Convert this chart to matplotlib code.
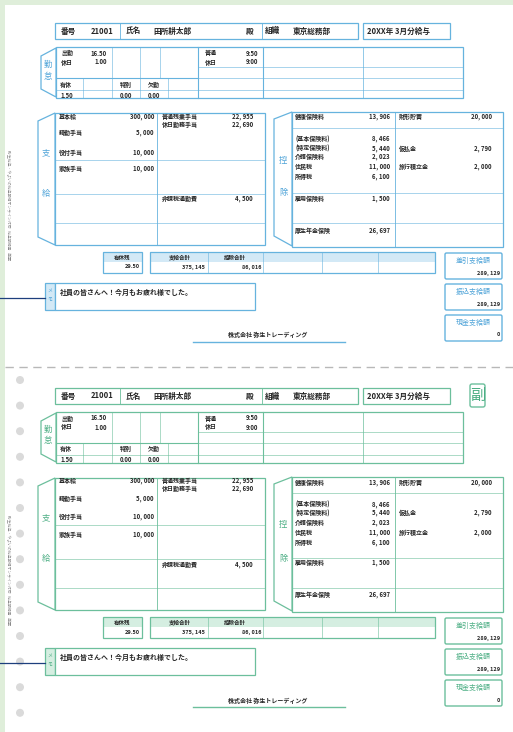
import matplotlib
matplotlib.use("Agg")
import matplotlib.pyplot as plt
from matplotlib.patches import Rectangle, Polygon, Circle, FancyBboxPatch

plt.rcParams['font.family'] = ['Noto Sans CJK JP', 'DejaVu Sans']

# --- slip data ---
header_labels = ["番号", "氏名", "組織"]
employee_no = "21001"
employee_name = "田所耕太郎"
department = "東京総務部"
period = "20XX年 3月分給与"

attend_labels = ["出勤", "休日"]
attend_days = ["16.50", "1.00"]
overtime_labels = ["普通", "休日"]
overtime_hours = ["9:50", "9:00"]
leave_labels = ["有休", "特別", "欠勤"]
leave_values = ["1.50", "0.00", "0.00"]

pay_left_items = ["基本給", "精勤手当", "役付手当", "家族手当"]
pay_left_values = [300000, 5000, 10000, 10000]
pay_right_items = ["普通残業手当", "休日勤務手当", "非課税通勤費"]
pay_right_values = [22955, 22690, 4500]

ded_left_items = ["健康保険料", "(基本保険料)", "(特定保険料)", "介護保険料",
                  "住民税", "所得税", "雇用保険料", "厚生年金保険"]
ded_left_values = [13906, 8466, 5440, 2023, 11000, 6100, 1500, 26697]
ded_right_items = ["財形貯蓄", "仮払金", "旅行積立金"]
ded_right_values = [20000, 2790, 2000]

paid_leave_left = "29.50"
total_labels = ["支給合計", "控除合計"]
total_values = [375145, 86016]
net_labels = ["差引支給額", "振込支給額", "現金支給額"]
net_values = [289129, 289129, 0]

memo_text = "社員の皆さんへ！今月もお疲れ様でした。"
company = "株式会社 弥生トレーディング"
side_note = "弥生給与・やよいの給与明細オンライン対応   給与明細書   単票"

INK = "#262626"


def fmt(v):
    return f"{v:,}".replace(",", ", ")


def draw_slip(ax, dy, line, fill, tab_ink):
    def rect(x0, y0, x1, y1, fc="none", ec=line, lw=0.9, z=2):
        ax.add_patch(Rectangle((x0, y0 + dy), x1 - x0, y1 - y0, fc=fc, ec=ec, lw=lw, zorder=z))

    def shade(x0, y0, x1, y1, fc=fill, z=1.5):
        rect(x0, y0, x1, y1, fc=fc, ec="none", lw=0, z=z)

    def hline(x0, x1, y, lw=0.5):
        ax.plot([x0, x1], [y + dy, y + dy], color=line, lw=lw, zorder=3)

    def vline(x, y0, y1, lw=0.5):
        ax.plot([x, x], [y0 + dy, y1 + dy], color=line, lw=lw, zorder=3)

    def txt(x, y, s, size=4.3, ha="left", color=INK, weight="bold", **kw):
        ax.text(x, y + dy, s, fontsize=size, ha=ha, va="center", color=color,
                fontweight=weight, zorder=5, **kw)

    def tab(pts, chars, cx, cys):
        ax.add_patch(Polygon([(px, py + dy) for px, py in pts], closed=True,
                             fc="white", ec=line, lw=0.9, zorder=2))
        for ch, cy in zip(chars, cys):
            txt(cx, cy, ch, size=6, ha="center", color=tab_ink, weight="normal")

    # header
    rect(55, 23, 358, 39, fc="white")
    vline(120, 23, 39, lw=0.6)
    vline(262, 23, 39, lw=0.6)
    txt(61, 31, header_labels[0], size=5.5)
    txt(91, 31, employee_no, size=5.5)
    txt(126, 31, header_labels[1], size=5.5)
    txt(153, 31, employee_name, size=5.5)
    txt(250, 31, "殿", size=5.5, ha="center")
    txt(265, 31, header_labels[2], size=5.5)
    txt(293, 31, department, size=5.5)
    rect(363, 23, 450, 39, fc="white")
    txt(367, 31, period, size=5.5)

    # attendance block
    rect(56, 47, 463, 98, fc="white")
    for x0, x1 in [(112, 140), (198, 227), (263, 310), (363, 410)]:
        shade(x0, 47, x1, 98)
    shade(56, 78, 198, 90)
    shade(140, 47, 198, 78, fc="white", z=1.6)
    shade(83, 78, 112, 98, z=1.6)
    hline(56, 198, 78, lw=0.8)
    hline(198, 463, 67, lw=0.4)
    hline(198, 463, 78, lw=0.4)
    hline(56, 463, 90, lw=0.4)
    for x in (112, 140, 160):
        vline(x, 47, 78, lw=0.4)
    for x in (83, 112, 140, 168):
        vline(x, 78, 98, lw=0.4)
    vline(198, 47, 98, lw=0.8)
    vline(263, 47, 98, lw=0.8)
    vline(363, 47, 98, lw=0.5)
    for i, (lab, val) in enumerate(zip(attend_labels, attend_days)):
        txt(61, 53 + 9 * i, lab)
        txt(107, 53 + 9 * i, val, ha="right")
    for i, (lab, val) in enumerate(zip(overtime_labels, overtime_hours)):
        txt(205, 53 + 9 * i, lab)
        txt(258, 53 + 9 * i, val, ha="right")
    for lab, val, x in zip(leave_labels, leave_values, (60, 120, 148)):
        txt(x, 84, lab)
        txt(x, 95, val)
    tab([(56, 48), (41, 56), (41, 89), (56, 97)], "勤怠", 48, (64, 76))

    # payments block
    rect(55, 113, 265, 245, fc="white")
    shade(84, 113, 102, 245)
    shade(158, 113, 207, 245)
    vline(157, 113, 245, lw=0.6)
    for y in (160, 194, 223):
        hline(55, 265, y, lw=0.4)
    for lab, val, y in zip(pay_left_items, pay_left_values, (116, 133, 152, 169)):
        txt(59, y, lab)
        txt(154, y, fmt(val), ha="right")
    for lab, val, y in zip(pay_right_items, pay_right_values, (116, 124, 199)):
        txt(162, y, lab)
        txt(253, y, fmt(val), ha="right")
    tab([(55, 113), (38, 121), (38, 237), (55, 245)], "支給", 46, (153, 193))

    # deductions block
    rect(292, 112, 503, 247, fc="white")
    shade(292, 112, 338, 247)
    shade(397, 112, 443, 247)
    vline(395, 112, 247, lw=0.6)
    for y in (128, 193, 223):
        hline(292, 503, y, lw=0.4)
    ded_y = (117, 139, 148, 157, 167, 177, 198, 230)
    for lab, val, y in zip(ded_left_items, ded_left_values, ded_y):
        txt(295, y, lab)
        txt(390, y, fmt(val), ha="right")
    for lab, val, y in zip(ded_right_items, ded_right_values, (117, 148, 167)):
        txt(399, y, lab)
        txt(492, y, fmt(val), ha="right")
    tab([(292, 112), (274, 119), (274, 236), (292, 246)], "控除", 283, (160, 193))

    # totals row
    shade(103, 252, 142, 262)
    rect(103, 252, 142, 273)
    txt(122, 258, "有休残", ha="center", size=4)
    txt(140, 267, paid_leave_left, ha="right", size=4)
    shade(150, 252, 435, 262)
    rect(150, 252, 435, 273)
    for x in (208, 263, 322, 378):
        vline(x, 252, 273, lw=0.4)
    for lab, val, cx, rx in zip(total_labels, total_values, (180, 235), (205, 262)):
        txt(cx, 258, lab, ha="center", size=4)
        txt(rx, 267, fmt(val), ha="right", size=4)

    # net pay boxes
    for i, (lab, val) in enumerate(zip(net_labels, net_values)):
        y0 = 253 + 31 * i
        ax.add_patch(FancyBboxPatch((445, y0 + dy), 57, 26, boxstyle="round,pad=0,rounding_size=1.5",
                                    fc="white", ec=line, lw=1.0, zorder=2))
        txt(473, y0 + 8, lab, ha="center", size=5, color=tab_ink, weight="normal")
        txt(500, y0 + 20, fmt(val), ha="right", size=4)

    # memo
    rect(45, 283, 55, 310, fc=fill)
    rect(55, 283, 255, 310, fc="white")
    txt(50, 290, "メ", size=3.5, ha="center", color=tab_ink, weight="normal")
    txt(50, 299, "モ", size=3.5, ha="center", color=tab_ink, weight="normal")
    txt(60, 292, memo_text, size=5)
    ax.plot([0, 45], [298 + dy, 298 + dy], color="#1d3f7d", lw=0.9, zorder=4)

    # company
    txt(268, 335, company, size=4.3, ha="center")
    ax.plot([193, 345], [342 + dy, 342 + dy], color=line, lw=1.0, zorder=3)

    # side note
    ax.text(8, 150 + dy, side_note, fontsize=2.8, rotation=270, ha="center", va="top",
            color="#8a8a8a", zorder=5)


fig = plt.figure(figsize=(5.13, 7.32), dpi=100)
ax = fig.add_axes([0, 0, 1, 1])
ax.set_xlim(0, 513)
ax.set_ylim(732, 0)
ax.axis("off")

# paper and green surround
ax.add_patch(Rectangle((0, 0), 513, 732, fc="#dfeeda", ec="none", zorder=0))
ax.add_patch(Rectangle((5, 5), 508, 727, fc="white", ec="none", zorder=0.5))

draw_slip(ax, 0, "#66b3de", "#d3e9f6", "#4da3d8")
draw_slip(ax, 365, "#6cbf9c", "#d5eee1", "#4cae84")

# cut line
ax.plot([5, 513], [367, 367], color="#b8b8b8", lw=1.0, dashes=(6, 4), zorder=3)

# punch holes on the copy
for k in range(14):
    ax.add_patch(Circle((20, 380 + 25.6 * k), 4, fc="#dadada", ec="none", zorder=1))

# copy stamp
ax.add_patch(FancyBboxPatch((470, 384), 15, 23, boxstyle="round,pad=0,rounding_size=2",
                            fc="white", ec="#6cbf9c", lw=1.0, zorder=2))
ax.text(477.5, 395.5, "副", fontsize=11, ha="center", va="center", color="#4cae84", zorder=5)

fig.savefig("out.png", dpi=100)
